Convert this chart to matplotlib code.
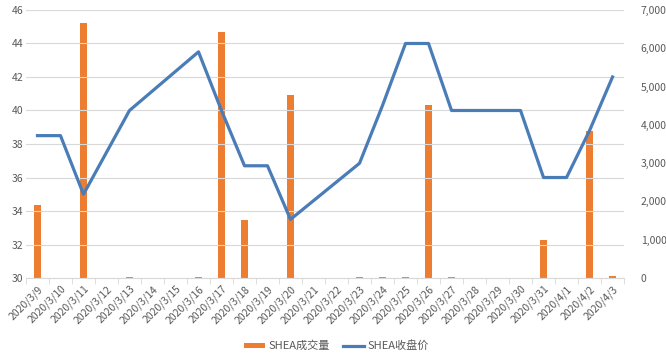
import numpy as np
import matplotlib.pyplot as plt

plt.rcParams['font.family'] = ['Noto Sans CJK SC', 'DejaVu Sans']

dates = ["2020/3/9", "2020/3/10", "2020/3/11", "2020/3/12", "2020/3/13", "2020/3/14",
         "2020/3/15", "2020/3/16", "2020/3/17", "2020/3/18", "2020/3/19", "2020/3/20",
         "2020/3/21", "2020/3/22", "2020/3/23", "2020/3/24", "2020/3/25", "2020/3/26",
         "2020/3/27", "2020/3/28", "2020/3/29", "2020/3/30", "2020/3/31", "2020/4/1",
         "2020/4/2", "2020/4/3"]

# 成交量 (right axis)
volume = [1900, 0, 6650, 0, 20, 0, 0, 20, 6420, 1520, 0, 4780, 0, 0, 20, 20, 20,
          4520, 20, 0, 0, 0, 1000, 0, 3840, 50]

# 收盘价 (left axis), None = no data, line connects across gaps
close = [38.5, 38.5, 35.0, None, 40.0, None, None, 43.5, 40.0, 36.7, 36.7, 33.5,
         None, None, 36.85, 40.3, 44.0, 44.0, 40.0, 40.0, 40.0, 40.0, 36.0, 36.0,
         38.8, 42.0]

orange = "#ED7D31"
blue = "#4a7db8"
grey = "#595959"

fig = plt.figure(figsize=(6.66, 3.56), dpi=100)
ax = fig.add_axes([0.039, 0.219, 0.898, 0.753])
ax2 = ax.twinx()

x = np.arange(len(dates))
ax2.bar(x, volume, width=0.29, color=orange, label="SHEA成交量", zorder=2)

xs = [i for i, v in enumerate(close) if v is not None]
ys = [v for v in close if v is not None]
line, = ax.plot(xs, ys, color=blue, lw=2.3, label="SHEA收盘价", zorder=3)

# line in front of bars
ax.set_zorder(ax2.get_zorder() + 1)
ax.patch.set_visible(False)

ax.set_ylim(30, 46)
ax.set_yticks(np.arange(30, 47, 2))
ax2.set_ylim(0, 7000)
ax2.set_yticks(np.arange(0, 7001, 1000))
ax2.set_yticklabels([f"{v:,}" for v in range(0, 7001, 1000)])
ax.set_xlim(-0.5, len(dates) - 0.5)

ax.grid(axis='y', color="#d9d9d9", lw=0.8)
ax.set_axisbelow(True)

for a in (ax, ax2):
    for s in a.spines.values():
        s.set_visible(False)
    a.tick_params(axis='y', length=0, labelsize=7.5, labelcolor=grey)
ax.spines['bottom'].set_visible(True)
ax.spines['bottom'].set_color("#d9d9d9")

ax.set_xticks(x)
ax.set_xticklabels(dates, rotation=45, ha='right', rotation_mode='anchor',
                   fontsize=7.5, color=grey)
ax.set_xticks(np.arange(-0.5, len(dates), 1), minor=True)
ax.tick_params(axis='x', which='major', length=0, pad=4)
ax.tick_params(axis='x', which='minor', length=4, color="#d9d9d9")
ax.tick_params(axis='y', pad=2)
ax2.tick_params(axis='y', pad=12)

handles = [ax2.containers[0], line]
fig.legend(handles, ["SHEA成交量", "SHEA收盘价"], loc='lower center',
           bbox_to_anchor=(0.505, -0.015), ncol=2, frameon=False, fontsize=8,
           labelcolor=grey, handlelength=1.9, handleheight=0.4,
           handletextpad=0.3, columnspacing=1.2)

fig.savefig("out.png", dpi=100)
